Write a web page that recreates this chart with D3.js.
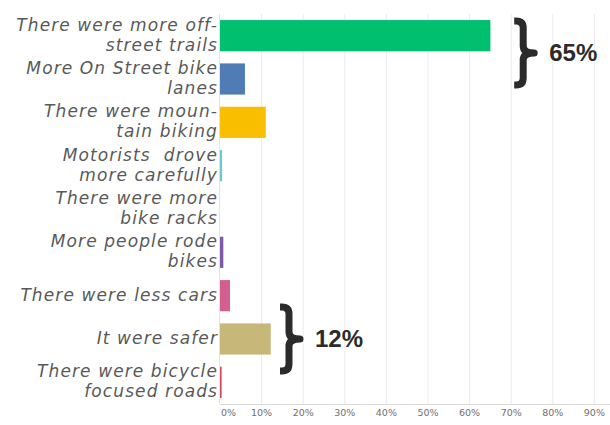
<!DOCTYPE html>
<html>
<head>
<meta charset="utf-8">
<script src="https://cdn.jsdelivr.net/npm/d3@7"></script>
<style>
  html, body { margin: 0; padding: 0; background: #ffffff; }
  svg { display: block; }
</style>
</head>
<body>
<div id="chart-container"></div>
<script>
// ## DATA ##
const categories = [
  ["There were more off-", "street trails"],
  ["More On Street bike", "lanes"],
  ["There were moun-", "tain biking"],
  ["Motorists  drove", "more carefully"],
  ["There were more", "bike racks"],
  ["More people rode", "bikes"],
  ["There were less cars"],
  ["It were safer"],
  ["There were bicycle", "focused roads"]
];
const values = [0.65, 0.06, 0.11, 0.005, 0, 0.008, 0.024, 0.122, 0.004];
const barColors = ["#00BF6F", "#507CB6", "#F9BE00", "#6BC8CD", "#FF8B4F", "#7D5BA6", "#D25F90", "#C7B879", "#DB4D5C"];
const tickValues = [0, 0.1, 0.2, 0.3, 0.4, 0.5, 0.6, 0.7, 0.8, 0.9];
const tickLabels = ["0%", "10%", "20%", "30%", "40%", "50%", "60%", "70%", "80%", "90%"];

// brace annotations: label, band index of centre, x position (share)
const braceLabels = ["65%", "12%"];
const braceCentres = [0.4, 7];
const braceAt = [0.70, 0.137];

// ## CHART ##
const width = 610;
const height = 425;
const margin = { top: 14, right: 0, bottom: 21, left: 220 };

const svg = d3.select("#chart-container")
  .append("svg")
  .attr("width", width)
  .attr("height", height);

const x = d3.scaleLinear()
  .domain([0, 0.9])
  .range([margin.left, 594.4]);

const y = d3.scaleBand()
  .domain(d3.range(categories.length))
  .range([margin.top, height - margin.bottom])
  .paddingInner(0.28)
  .paddingOuter(0.14);

// grid lines
svg.append("g")
  .selectAll("line")
  .data(tickValues.slice(1))
  .join("line")
    .attr("x1", d => x(d))
    .attr("x2", d => x(d))
    .attr("y1", margin.top)
    .attr("y2", height - margin.bottom)
    .attr("stroke", "#ececec")
    .attr("stroke-width", 1);

// axis lines
svg.append("line")
  .attr("x1", margin.left).attr("x2", width)
  .attr("y1", height - margin.bottom + 0.5).attr("y2", height - margin.bottom + 0.5)
  .attr("stroke", "#d9d9d9");
svg.append("line")
  .attr("x1", margin.left - 0.5).attr("x2", margin.left - 0.5)
  .attr("y1", margin.top).attr("y2", height - margin.bottom)
  .attr("stroke", "#e3e3e3");

// tick labels
svg.append("g")
  .selectAll("text")
  .data(tickValues)
  .join("text")
    .attr("x", (d, i) => i === 0 ? x(d) + 1 : x(d))
    .attr("y", 416)
    .attr("text-anchor", (d, i) => i === 0 ? "start" : "middle")
    .attr("font-family", "DejaVu Sans, sans-serif")
    .attr("font-size", 9.5)
    .attr("fill", "#707070")
    .text((d, i) => tickLabels[i]);

// bars
svg.append("g")
  .selectAll("rect")
  .data(values)
  .join("rect")
    .attr("x", margin.left)
    .attr("y", (d, i) => y(i))
    .attr("width", d => x(d) - x(0))
    .attr("height", y.bandwidth())
    .attr("fill", (d, i) => barColors[i]);

// category labels
const lineHeight = 20;
svg.append("g")
  .selectAll("text")
  .data(categories)
  .join("text")
    .attr("text-anchor", "end")
    .attr("font-family", "DejaVu Sans, sans-serif")
    .attr("font-style", "italic")
    .attr("font-size", 17)
    .attr("letter-spacing", 1.1)
    .attr("fill", "#595959")
    .style("white-space", "pre")
    .each(function(lines, i) {
      const cy = y(i) + y.bandwidth() / 2;
      d3.select(this).selectAll("tspan")
        .data(lines)
        .join("tspan")
          .attr("x", 218)
          .attr("y", (l, j) => cy + (j - (lines.length - 1) / 2) * lineHeight)
          .attr("dy", "0.3em")
          .text(l => l);
    });

// braces
function bracePath(x0, cy, h, w) {
  const top = cy - h / 2, bot = cy + h / 2;
  const xm = x0 + w * 0.45, x1 = x0 + w;
  const r = 7;
  return `M${x0},${top} L${xm - r},${top} Q${xm},${top} ${xm},${top + r}
          L${xm},${cy - r} Q${xm},${cy} ${x1},${cy}
          Q${xm},${cy} ${xm},${cy + r}
          L${xm},${bot - r} Q${xm},${bot} ${xm - r},${bot} L${x0},${bot}`;
}

const braces = svg.append("g");
braceLabels.forEach((label, i) => {
  const cy = y.range()[0] + y.step() * (braceCentres[i] + 0.5);
  const bx = x(braceAt[i]);
  braces.append("path")
    .attr("d", bracePath(bx + 3, cy, 64, 20))
    .attr("fill", "none")
    .attr("stroke", "#2b2b2b")
    .attr("stroke-width", 7)
    .attr("stroke-linejoin", "round");
  braces.append("text")
    .attr("x", bx + 38)
    .attr("y", cy + 8)
    .attr("font-family", "Liberation Sans, Arial, sans-serif")
    .attr("font-weight", "bold")
    .attr("font-size", 24)
    .attr("fill", "#2b2b2b")
    .text(label);
});
</script>
</body>
</html>
